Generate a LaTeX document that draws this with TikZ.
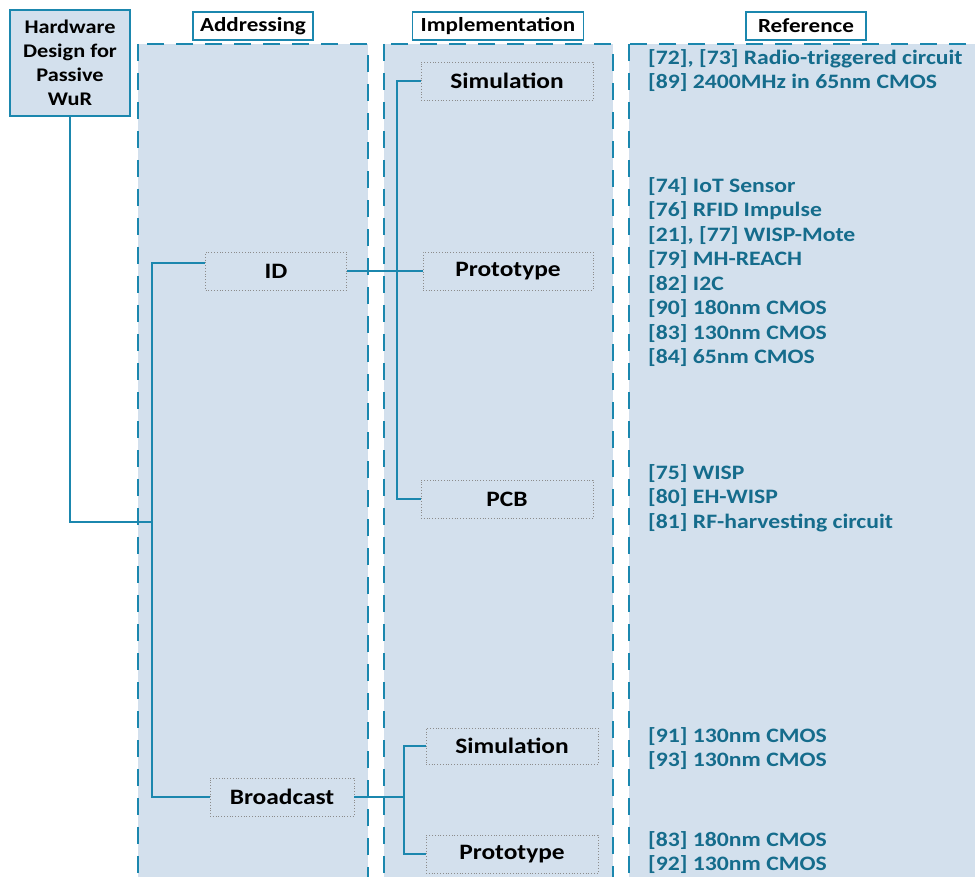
\documentclass[tikz,border=0pt]{standalone}
\usepackage{fontspec}
\setmainfont{Carlito}[FakeStretch=1.155]
\usepackage{xcolor}
\usepackage{tikz}
\usetikzlibrary{positioning}
\definecolor{wurline}{HTML}{1B87AE}
\definecolor{wurfill}{HTML}{D3E0ED}
\definecolor{wurtext}{HTML}{156C8C}

\begin{document}
\begin{tikzpicture}[
  x=1pt, y=-1pt,
  root/.style={draw=wurline, fill=wurfill, line width=1.4pt, align=center, minimum width=120pt, minimum height=106pt, inner sep=2pt, font=\fontsize{19.3}{24}\selectfont\bfseries},
  hdr/.style={draw=wurline, fill=white, line width=1.2pt, minimum height=28pt, inner sep=2pt, font=\fontsize{20}{22}\selectfont\bfseries},
  col/.style={draw=wurline, fill=wurfill, dash pattern=on 17pt off 12pt, line width=2.5pt},
  cat/.style={draw=gray!90, dotted, line width=0.8pt, minimum height=38pt, inner sep=2pt, font=\fontsize{22}{24}\selectfont\bfseries},
  ref/.style={text=wurtext, align=left, anchor=north west, inner sep=0pt, font=\fontsize{20.5}{24.5}\selectfont\bfseries},
  link/.style={draw=wurline, line width=2.2pt}
]
\useasboundingbox (0,0) rectangle (975,877);
\clip (0,0) rectangle (975,877);
% columns
\draw[col] (138,44) rectangle (368,900);
\draw[col] (384,44) rectangle (613,900);
\draw[col] (629,44) rectangle (1000,900);
% headers
\node[root] (root) at (70,63) {Hardware\\Design for\\Passive\\WuR};
\node[hdr, minimum width=120pt] (addr) at (253,26) {Addressing};
\node[hdr, minimum width=171pt] (impl) at (498,26) {Implementation};
\node[hdr, minimum width=120pt] (refh) at (806,26) {Reference};
% addressing
\node[cat, minimum width=141pt] (id) at (276,271) {ID};
\node[cat, minimum width=144pt] (broad) at (282,797) {Broadcast};
% implementation
\node[cat, minimum width=172pt] (sim) at (507,81) {Simulation};
\node[cat, minimum width=170pt] (prot) at (508,271) {Prototype};
\node[cat, minimum width=172pt] (pcb) at (507,499) {PCB};
\node[cat, minimum width=172pt, minimum height=36pt] (simb) at (512,746) {Simulation};
\node[cat, minimum width=172pt] (protb) at (512,854) {Prototype};
% references
\node[ref] (rsim) at (648,49) {[72], [73] Radio-triggered circuit\\{}[89] 2400MHz in 65nm CMOS};
\node[ref] (rprot) at (648,177) {[74] IoT Sensor\\{}[76] RFID Impulse\\{}[21], [77] WISP-Mote\\{}[79] MH-REACH\\{}[82] I2C\\{}[90] 180nm CMOS\\{}[83] 130nm CMOS\\{}[84] 65nm CMOS};
\node[ref] (rpcb) at (648,464) {[75] WISP\\{}[80] EH-WISP\\{}[81] RF-harvesting circuit};
\node[ref] (rsimb) at (648,727) {[91] 130nm CMOS\\{}[93] 130nm CMOS};
\node[ref] (rprotb) at (648,831) {[83] 180nm CMOS\\{}[92] 130nm CMOS};
% tree
\coordinate (join) at (153,522);
\draw[link] (root.south) |- (join);
\draw[link] ([yshift=8pt]id.west) -- ++(-53,0) |- (broad.west);
\draw[link] (id.east) -- (prot.west);
\draw[link] (sim.west) -- ++(-24,0) |- (pcb.west);
\draw[link] (broad.east) -- ++(50,0);
\draw[link] (simb.west) -- ++(-22,0) |- (protb.west);
\end{tikzpicture}
\end{document}
